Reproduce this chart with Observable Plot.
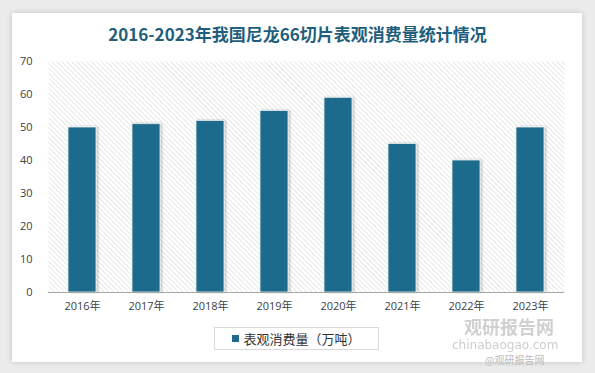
<!DOCTYPE html>
<html><head><meta charset="utf-8">
<script src="https://cdn.jsdelivr.net/npm/d3@7"></script>
<script src="https://cdn.jsdelivr.net/npm/@observablehq/plot@0.6"></script>
<style>
body{margin:0;width:595px;height:373px;background:#ececec;position:relative;overflow:hidden;font-family:"Noto Sans CJK SC","Noto Sans",sans-serif;}
#card{position:absolute;left:12px;top:13px;width:570px;height:349px;background:#fff;box-shadow:0 0 6px rgba(0,0,0,0.18);}
#title{position:absolute;left:0;top:21px;width:595px;text-align:center;font-size:17px;font-weight:bold;color:#1f5e7c;line-height:26px;}
#chart{position:absolute;left:0;top:50px;}
#legend{position:absolute;left:214px;top:327px;width:165px;height:23px;border:1px solid #d9d9d9;box-sizing:border-box;font-size:13px;color:#333;display:flex;align-items:center;justify-content:center;background:#fff;}
#legend span.sw{display:inline-block;width:7px;height:7px;background:#1f6a8c;margin-right:4px;}
.wm{position:absolute;color:#c8c8c8;font-weight:bold;white-space:nowrap;line-height:1;}
</style></head><body>
<div id="card"></div>
<div id="title">2016-2023年我国尼龙66切片表观消费量统计情况</div>
<div id="chart"></div>
<div id="legend"><span class="sw"></span>表观消费量（万吨）</div>
<div class="wm" style="left:464px;top:317px;font-size:18px;opacity:0.85">观研报告网</div>
<div class="wm" style="left:452px;top:339px;font-size:12px;font-weight:normal;font-family:'DejaVu Sans';opacity:0.9">chinabaogao.com</div>
<div class="wm" style="left:485px;top:355px;font-size:10px;font-weight:normal;color:#bbb">@观研报告网</div>
<script>
const years = ["2016年","2017年","2018年","2019年","2020年","2021年","2022年","2023年"];
const consumption = [50, 51, 52, 55, 59, 45, 40, 50];
const yTicks = [0,10,20,30,40,50,60,70];

const data = years.map((y,i)=>({year:y, value:consumption[i]}));

const chart = Plot.plot({
  width:595, height:270,
  marginTop:11, marginBottom:28, marginLeft:48, marginRight:31,
  style:{fontFamily:"'Open Sans','Noto Sans CJK SC',sans-serif", fontSize:"11px", color:"#404040", background:"transparent"},
  x:{domain:years, paddingInner:0.566, paddingOuter:0.283, label:null, tickSize:0, tickPadding:10},
  y:{domain:[0,70], ticks:yTicks, label:null, tickSize:0, tickPadding:16},
  marks:[
    Plot.frame({fill:"url(#hatch)", stroke:null}),
    Plot.barY(data,{x:"year", y:"value", fill:"#1f6a8c", stroke:"#e8eef2", strokeWidth:0.8}),
    Plot.ruleY([0],{stroke:"#a6a6a6", strokeWidth:1})
  ]
});
const ns="http://www.w3.org/2000/svg";
const defs=document.createElementNS(ns,"defs");
defs.innerHTML='<pattern id="hatch" patternUnits="userSpaceOnUse" width="3.5" height="3.5" patternTransform="rotate(-45)"><rect width="3.5" height="3.5" fill="#ffffff"/><line x1="0" y1="0" x2="0" y2="3.5" stroke="#d4d4d4" stroke-width="1.1"/></pattern><filter id="sh" x="-20%" y="-5%" width="150%" height="110%"><feDropShadow dx="1.5" dy="0" stdDeviation="1.2" flood-color="#000" flood-opacity="0.25"/></filter>';
chart.insertBefore(defs, chart.firstChild);
chart.querySelectorAll("g[aria-label='bar']").forEach(g=>g.setAttribute("filter","url(#sh)"));
document.getElementById("chart").appendChild(chart);
</script>
</body></html>
